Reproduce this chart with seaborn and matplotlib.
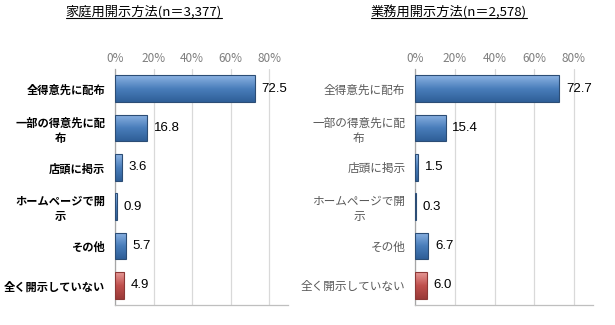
import numpy as np
import pandas as pd
import matplotlib
matplotlib.use("Agg")
import matplotlib.pyplot as plt
from matplotlib.colors import LinearSegmentedColormap
from matplotlib.lines import Line2D
import seaborn as sns

# ---- data ----
categories_left = ["全得意先に配布", "一部の得意先に配\n布", "店頭に掲示", "ホームページで開\n示", "その他", "全く開示していない"]
values_left = [72.5, 16.8, 3.6, 0.9, 5.7, 4.9]
categories_right = ["全得意先に配布", "一部の得意先に配\n布", "店頭に掲示", "ホームページで開\n示", "その他", "全く開示していない"]
values_right = [72.7, 15.4, 1.5, 0.3, 6.7, 6.0]
title_left = "家庭用開示方法(n＝3,377)"
title_right = "業務用開示方法(n＝2,578)"
xticks = [0, 20, 40, 60, 80]
xtick_labels = ["0%", "20%", "40%", "60%", "80%"]
bar_kind = ["blue", "blue", "blue", "blue", "blue", "red"]

sns.set_theme(style="white")
plt.rcParams["font.family"] = ["Noto Sans CJK JP", "DejaVu Sans"]

fig = plt.figure(figsize=(6.15, 3.25), dpi=100)
fig.patch.set_facecolor("white")

ax_l = fig.add_axes([0.187, 0.0615, 0.281, 0.726])
ax_r = fig.add_axes([0.675, 0.0615, 0.289, 0.726])

grads = {
    "blue": LinearSegmentedColormap.from_list("b", ["#8DB4E3", "#4A7EBB", "#2F5F98"]),
    "red": LinearSegmentedColormap.from_list("r", ["#E69A97", "#C0504D", "#9A3A38"]),
}
edges = {"blue": "#2C4D75", "red": "#8C3836"}


def draw(ax, cats, vals, bold, label_color, title, title_x, lab_size):
    df = pd.DataFrame({"cat": cats, "val": vals, "kind": bar_kind})
    sns.barplot(data=df, y="cat", x="val", hue="kind", dodge=False, orient="h",
                palette={"blue": "#4A7EBB", "red": "#C0504D"}, width=0.68,
                legend=False, ax=ax, edgecolor="none")
    ax.set_xticks(xticks)
    ax.set_xticklabels(xtick_labels, color="#7F7F7F", fontsize=8.5)
    ax.xaxis.tick_top()
    ax.tick_params(axis="x", length=0, pad=3)
    ax.tick_params(axis="y", length=0, pad=7)
    ax.set_xlabel("")
    ax.set_ylabel("")
    for lab in ax.get_yticklabels():
        lab.set_fontsize(lab_size)
        lab.set_fontweight("bold" if bold else "normal")
        lab.set_color(label_color)
        lab.set_horizontalalignment("right")
        lab.set_multialignment("center")
    ax.grid(axis="x", color="#D9D9D9", linewidth=0.9)
    ax.set_axisbelow(True)
    for s in ["top", "right"]:
        ax.spines[s].set_visible(False)
    ax.spines["left"].set_color("#A6A6A6")
    ax.spines["bottom"].set_color("#BFBFBF")
    ax.spines["left"].set_linewidth(0.9)
    ax.spines["bottom"].set_linewidth(0.9)
    # gradient fill on bars
    patches = sorted(ax.patches, key=lambda p: p.get_y())
    grad = np.linspace(0, 1, 64).reshape(-1, 1)
    for p, kind, v in zip(patches, bar_kind, vals):
        x0, y0 = p.get_x(), p.get_y()
        w, h = p.get_width(), p.get_height()
        im = ax.imshow(grad, cmap=grads[kind], aspect="auto",
                       extent=[x0, x0 + max(w, 0.01), y0 + h, y0], zorder=3)
        im.set_clip_path(p)
        p.set_edgecolor(edges[kind])
        p.set_linewidth(0.8)
        p.set_facecolor("none")
        p.set_zorder(4)
        ax.text(v + 3.3, p.get_y() + h / 2, f"{v:.1f}", va="center", ha="left",
                fontsize=9.5, color="black", family=["Liberation Sans"])
    ax.set_xlim(0, 89.5)
    ax.set_ylim(5.5, -0.5)
    t = fig.text(title_x, 0.963, title, ha="center", va="center", fontsize=9.5, color="black")
    return t


t1 = draw(ax_l, categories_left, values_left, True, "black", title_left, 0.234, 8.1)
t2 = draw(ax_r, categories_right, values_right, False, "#595959", title_right, 0.730, 8.4)

fig.canvas.draw()
renderer = fig.canvas.get_renderer()
for t in (t1, t2):
    bb = t.get_window_extent(renderer)
    inv = fig.transFigure.inverted()
    (x0, y0), (x1, y1) = inv.transform([(bb.x0, bb.y0 + 1), (bb.x1, bb.y0 + 1)])
    fig.add_artist(Line2D([x0, x1], [y0, y1], transform=fig.transFigure, color="black", linewidth=0.8))

fig.savefig("out.png", dpi=100, facecolor="white")
